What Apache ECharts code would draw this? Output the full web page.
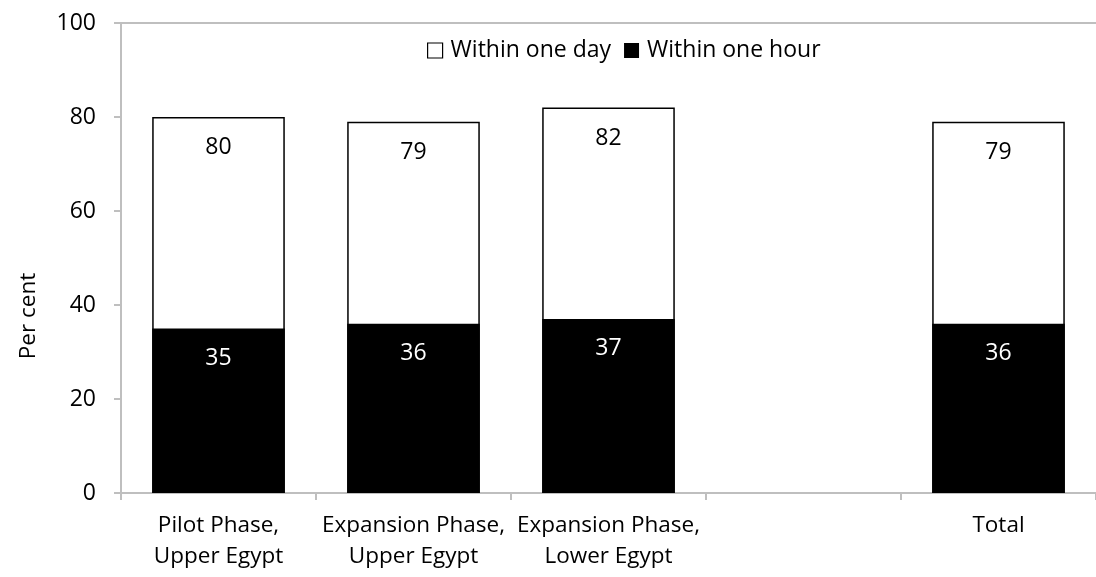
<!DOCTYPE html>
<html><head><meta charset="utf-8">
<script src="https://cdn.jsdelivr.net/npm/echarts@6/dist/echarts.min.js"></script>
<style>html,body{margin:0;padding:0;background:#fff}#c{width:1096px;height:577px}</style>
</head><body><div id="c"></div>
<script>
const categories = ['Pilot Phase,\nUpper Egypt', 'Expansion Phase,\nUpper Egypt', 'Expansion Phase,\nLower Egypt', '', 'Total'];
const withinOneDay = [80, 79, 82, '-', 79];
const withinOneHour = [35, 36, 37, '-', 36];
const yTicks = [0, 20, 40, 60, 80, 100];

const FONT = '"Open Sans", sans-serif';
const chart = echarts.init(document.getElementById('c'));
chart.setOption({
  animation: false,
  textStyle: { fontFamily: FONT },
  grid: { left: 121, right: -7, top: 23, bottom: 84, containLabel: false },
  legend: {
    top: 34, left: 422,
    itemWidth: 15, itemHeight: 15, itemGap: 13,
    textStyle: { fontFamily: FONT, fontSize: 23, color: '#000', padding: [0, 0, 0, 3] },
    data: [
      { name: 'Within one day', icon: 'rect', itemStyle: { color: '#fff', borderColor: '#000', borderWidth: 1.2 } },
      { name: 'Within one hour', icon: 'rect', itemStyle: { color: '#000' } }
    ]
  },
  xAxis: [{
    type: 'category', data: categories,
    axisLine: { lineStyle: { color: '#bfbfbf', width: 2 } },
    axisTick: { show: true, length: 7, alignWithLabel: false, lineStyle: { color: '#bfbfbf', width: 2 } },
    axisLabel: { fontFamily: FONT, fontSize: 22.5, color: '#000', margin: 17, lineHeight: 31, interval: 0 }
  }, {
    type: 'category', data: categories, position: 'top',
    axisLine: { lineStyle: { color: '#bfbfbf', width: 2 } },
    axisTick: { show: false }, axisLabel: { show: false }
  }],
  yAxis: {
    type: 'value', min: yTicks[0], max: yTicks[yTicks.length - 1], interval: 20,
    name: 'Per cent', nameLocation: 'middle', nameGap: 81, nameRotate: 90,
    nameTextStyle: { fontFamily: FONT, fontSize: 22.5, color: '#000', padding: [0, 116, 0, 0] },
    axisLine: { show: true, lineStyle: { color: '#bfbfbf', width: 2 } },
    axisTick: { show: true, length: 7, lineStyle: { color: '#bfbfbf', width: 2 } },
    splitLine: { show: false },
    axisLabel: { fontFamily: FONT, fontSize: 23, color: '#000', margin: 25 }
  },
  series: [{
    name: 'Within one day', type: 'bar', data: withinOneDay,
    barWidth: '68%', barGap: '-100%',
    itemStyle: { color: '#fff', borderColor: '#000', borderWidth: 1.5 },
    label: { show: true, position: 'insideTop', distance: 19, fontFamily: FONT, fontSize: 23, color: '#000' }
  }, {
    name: 'Within one hour', type: 'bar', data: withinOneHour,
    barWidth: '68%',
    itemStyle: { color: '#000' },
    label: { show: true, position: 'insideTop', distance: 18, fontFamily: FONT, fontSize: 23, color: '#fff' }
  }]
});
</script></body></html>
